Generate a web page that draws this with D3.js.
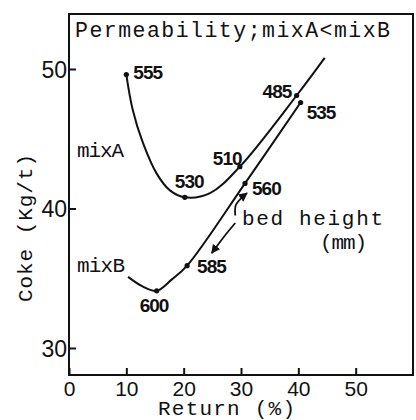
<!DOCTYPE html>
<html><head><meta charset="utf-8">
<script src="https://cdn.jsdelivr.net/npm/d3@7"></script>
<style>
html,body{margin:0;padding:0;background:#fff;}
svg{display:block;}
.mono{font-family:"Liberation Mono","DejaVu Sans Mono",monospace;fill:#111;}
.num{font-family:"Liberation Sans",Arial,sans-serif;fill:#111;}
</style>
</head><body>
<svg id="c" width="416" height="420"></svg>
<script>
// ---- data ----
const xTicks = [0, 10, 20, 30, 40, 50];
const yTicks = [30, 40, 50];
// mixA curve trace (Return %, Coke kg/t)
const mixAReturn = [10, 11.1, 12.9, 15.3, 17.6, 20.2, 24.6, 29.8, 39.7, 44.6];
const mixACoke   = [49.6, 47.1, 44.7, 42.5, 41.3, 40.8, 41.1, 43.0, 48.1, 50.8];
// mixB curve trace
const mixBReturn = [10.3, 12.9, 15.3, 17.9, 20.6, 30.7, 40.4];
const mixBCoke   = [35.1, 34.4, 34.1, 34.9, 35.9, 41.8, 47.6];
// marked points with bed height labels (mm)
const ptLabels = ["555", "530", "510", "485", "600", "585", "560", "535"];
const ptReturn = [10, 20.2, 29.8, 39.7, 15.3, 20.6, 30.7, 40.4];
const ptCoke   = [49.6, 40.8, 43.0, 48.1, 34.1, 35.9, 41.8, 47.6];
// bed-height arrows (data units)
const arrowUp   = [[29.0, 39.5], [29.1, 40.25], [30.2, 40.8], [31.05, 41.1]];
const arrowDown = [[29.0, 38.96], [27.0, 37.96], [24.9, 36.8]];

// ---- layout ----
const L = 69, R = 413, T = 14, B = 375;
const svg = d3.select("#c");
const x = d3.scaleLinear().domain([0, 60]).range([L, R]);
// y: 30 -> 348, 50 -> 69
const y = d3.scaleLinear().domain([30 - (B - 348) / 13.95, 50]).range([B, 69]);

// label offsets (px) relative to each marked point
const labOff = {"555":[7,4],"530":[-10,-9],"510":[-27,-2],"485":[-34,2],
                "600":[-17,21],"585":[10,7],"560":[7,12],"535":[6,17]};

// frame
svg.append("rect").attr("x", L).attr("y", T).attr("width", R - L).attr("height", B - T)
  .attr("fill", "none").attr("stroke", "#111").attr("stroke-width", 2);

// axes
const gx = svg.append("g").attr("transform", `translate(0,${B})`)
  .call(d3.axisBottom(x).tickValues(xTicks).tickSize(-7).tickPadding(6).tickFormat(d3.format("d")));
const gy = svg.append("g").attr("transform", `translate(${L},0)`)
  .call(d3.axisLeft(y).tickValues(yTicks).tickSize(-7).tickPadding(2).tickFormat(d3.format("d")));
[gx, gy].forEach(g => {
  g.select(".domain").remove();
  g.selectAll(".tick line").attr("stroke", "#111").attr("stroke-width", 2);
  g.selectAll(".tick text").attr("class", "num").attr("fill", "#111");
});
gx.selectAll(".tick text").style("font-size", "21px");
gy.selectAll(".tick text").style("font-size", "23px").attr("dy", "0.36em");

// curves
const line = d3.line().x(d => x(d[0])).y(d => y(d[1])).curve(d3.curveCatmullRom.alpha(0.5));
const aData = mixAReturn.map((v, i) => [v, mixACoke[i]]);
const bData = mixBReturn.map((v, i) => [v, mixBCoke[i]]);
svg.append("path").attr("d", line(aData)).attr("fill", "none").attr("stroke", "#111").attr("stroke-width", 2);
svg.append("path").attr("d", line(bData)).attr("fill", "none").attr("stroke", "#111").attr("stroke-width", 2);

// points and labels
const pts = ptLabels.map((l, i) => ({l, xv: ptReturn[i], yv: ptCoke[i]}));
svg.selectAll("circle.pt").data(pts).join("circle").attr("class", "pt")
  .attr("cx", d => x(d.xv)).attr("cy", d => y(d.yv)).attr("r", 2.6).attr("fill", "#111");
svg.selectAll("text.pl").data(pts).join("text").attr("class", "pl num")
  .attr("x", d => x(d.xv) + labOff[d.l][0]).attr("y", d => y(d.yv) + labOff[d.l][1])
  .style("font-size", "19px").style("font-weight", "bold").style("letter-spacing", "-1px")
  .text(d => d.l);

// arrows
const defs = svg.append("defs");
defs.append("marker").attr("id", "ah").attr("viewBox", "0 0 10 10").attr("refX", 9).attr("refY", 5)
  .attr("markerWidth", 5).attr("markerHeight", 5).attr("orient", "auto")
  .append("path").attr("d", "M0,0 L10,5 L0,10 z").attr("fill", "#111");
const aline = d3.line().x(d => x(d[0])).y(d => y(d[1])).curve(d3.curveCatmullRom);
[arrowUp, arrowDown].forEach(a => {
  svg.append("path").attr("d", aline(a)).attr("fill", "none").attr("stroke", "#111")
    .attr("stroke-width", 1.8).attr("marker-end", "url(#ah)");
});

// texts
function mono(t, px, py, len, size) {
  return svg.append("text").attr("class", "mono").attr("x", px).attr("y", py)
    .attr("textLength", len).attr("lengthAdjust", "spacing").style("font-size", size + "px").text(t);
}
mono("Permeability;mixA<mixB", 75, 37, 315, 21.5);
mono("mixA", 77, 157, 47, 21);
mono("mixB", 77, 272, 48, 21);
mono("bed height", 242, 225, 141, 21);
mono("(mm)", 320, 249, 47, 21);
mono("Return (%)", 158, 415, 137, 21);
svg.append("text").attr("class", "mono").attr("transform", "translate(32,302) rotate(-90)")
  .attr("textLength", 148).attr("lengthAdjust", "spacing").style("font-size", "21px").text("Coke (Kg/t)");
</script>
</body></html>
